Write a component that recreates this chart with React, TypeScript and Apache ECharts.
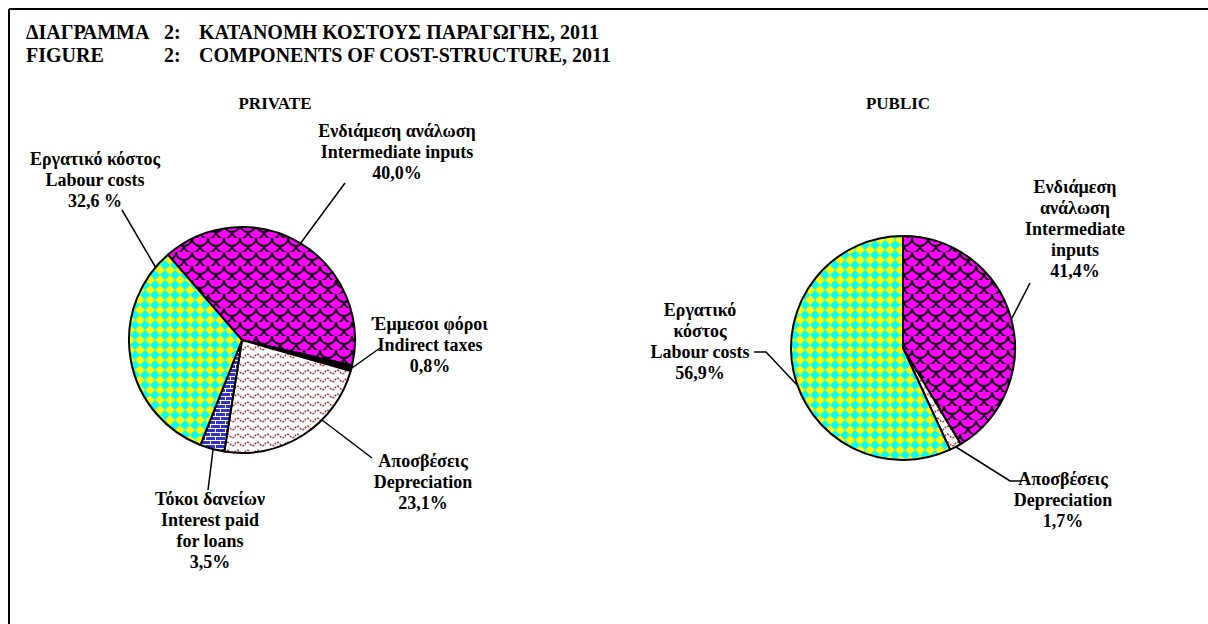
import React, { useEffect, useRef } from "react";
import * as echarts from "echarts";

const privateNames = ["Intermediate inputs", "Indirect taxes", "Depreciation", "Interest paid for loans", "Labour costs"];
const privateValues = [40.0, 0.8, 23.1, 3.5, 32.6];
const privateLabels = [
  "Ενδιάμεση ανάλωση\nIntermediate inputs\n40,0%",
  "Έμμεσοι φόροι\nIndirect taxes\n0,8%",
  "Αποσβέσεις\nDepreciation\n23,1%",
  "Τόκοι δανείων\nInterest paid\nfor loans\n3,5%",
  "Εργατικό κόστος\nLabour costs\n32,6 %",
];
const privatePatterns = ["scales", "solid", "waves", "bricks", "diamonds"];

const publicNames = ["Intermediate inputs", "Depreciation", "Labour costs"];
const publicValues = [41.4, 1.7, 56.9];
const publicLabels = [
  "Ενδιάμεση\nανάλωση\nIntermediate\ninputs\n41,4%",
  "Αποσβέσεις\nDepreciation\n1,7%",
  "Εργατικό\nκόστος\nLabour costs\n56,9%",
];
const publicPatterns = ["scales", "waves", "diamonds"];

// label layout (label centre + leader line)
const privateLabelPos = [
  { x: 397, y: 152, line: [[345, 183], [300, 244]] },
  { x: 430, y: 345, line: [[380, 348], [352, 368]] },
  { x: 423, y: 482, line: [[372, 458], [322, 420]] },
  { x: 210, y: 530, line: [[208, 490], [213, 450]] },
  { x: 95, y: 180, line: [[122, 210], [156, 268]] },
];
const publicLabelPos = [
  { x: 1075, y: 229, line: [[1030, 283], [1011, 320]] },
  { x: 1063, y: 500, line: [[1022, 481], [1010, 481], [956, 447]] },
  { x: 700, y: 341, line: [[754, 352], [766, 352], [798, 386]] },
];

function makePattern(kind: string): any {
  if (kind === "solid") return "#000000";
  const c = document.createElement("canvas");
  const ctx = c.getContext("2d")!;
  if (kind === "diamonds") {
    c.width = 10; c.height = 10;
    ctx.fillStyle = "#FFFF00"; ctx.fillRect(0, 0, 10, 10);
    ctx.fillStyle = "#00FFFF";
    ctx.beginPath(); ctx.moveTo(5, 0); ctx.lineTo(10, 5); ctx.lineTo(5, 10); ctx.lineTo(0, 5); ctx.closePath(); ctx.fill();
  } else if (kind === "scales") {
    c.width = 16; c.height = 14;
    ctx.fillStyle = "#FF00FF"; ctx.fillRect(0, 0, 16, 14);
    ctx.strokeStyle = "#000000"; ctx.lineWidth = 1.9;
    ctx.beginPath(); ctx.arc(8, 0, 8, 0, Math.PI); ctx.stroke();
    ctx.beginPath(); ctx.arc(0, 7, 8, 0, Math.PI); ctx.stroke();
    ctx.beginPath(); ctx.arc(16, 7, 8, 0, Math.PI); ctx.stroke();
    ctx.beginPath(); ctx.arc(8, 14, 8, 0, Math.PI); ctx.stroke();
  } else if (kind === "waves") {
    c.width = 10; c.height = 8;
    ctx.fillStyle = "#FFFFFF"; ctx.fillRect(0, 0, 10, 8);
    ctx.strokeStyle = "#A0403A"; ctx.lineWidth = 1.5;
    ctx.setLineDash([2, 1]);
    ctx.beginPath();
    for (let i = 0; i <= 10; i++) {
      const y = 4 + 1.8 * Math.sin((i / 10) * Math.PI * 2);
      if (i === 0) ctx.moveTo(i, y); else ctx.lineTo(i, y);
    }
    ctx.stroke();
  } else if (kind === "bricks") {
    c.width = 10; c.height = 8;
    ctx.fillStyle = "#3333CC"; ctx.fillRect(0, 0, 10, 8);
    ctx.fillStyle = "#FFFFFF";
    ctx.fillRect(0, 0, 10, 1);
    ctx.fillRect(0, 4, 10, 1);
    ctx.fillRect(0, 0, 1, 4);
    ctx.fillRect(5, 4, 1, 4);
  }
  return { image: c, repeat: "repeat" };
}

const SERIF = "'Liberation Serif', 'Times New Roman', serif";

const labelFont = {
  color: "#000",
  fontFamily: SERIF,
  fontWeight: 700,
  fontSize: 18,
  lineHeight: 21,
  align: "center" as const,
  overflow: "none" as const,
};

export default function App() {
  const ref = useRef<HTMLDivElement>(null);
  useEffect(() => {
    const chart = echarts.init(ref.current!, null, { renderer: "svg" });
    const mkData = (names: string[], values: number[], labels: string[], pats: string[]) =>
      names.map((n, i) => ({
        name: n,
        value: values[i],
        label: { formatter: labels[i] },
        itemStyle: { color: makePattern(pats[i]) },
      }));
    const t = (x: number, y: number, text: string, size: number, align = "left") => ({
      type: "text",
      x,
      y,
      style: { text, font: `bold ${size}px ${SERIF}`, fill: "#000", align, verticalAlign: "middle" },
    });
    chart.setOption({
      animation: false,
      backgroundColor: "#fff",
      graphic: [
        { type: "line", shape: { x1: 9, y1: 9, x2: 1300, y2: 9 }, style: { stroke: "#000", lineWidth: 2 } },
        { type: "line", shape: { x1: 9, y1: 9, x2: 9, y2: 700 }, style: { stroke: "#000", lineWidth: 2 } },
        t(26, 32, "ΔΙΑΓΡΑΜΜΑ", 20),
        t(164, 32, "2:", 20),
        t(199, 32, "ΚΑΤΑΝΟΜΗ ΚΟΣΤΟΥΣ ΠΑΡΑΓΩΓΗΣ, 2011", 20),
        t(26, 55, "FIGURE", 20),
        t(164, 55, "2:", 20),
        t(199, 55, "COMPONENTS OF COST-STRUCTURE, 2011", 20),
        t(275, 103, "PRIVATE", 17, "center"),
        t(898, 103, "PUBLIC", 17, "center"),
      ],
      series: [
        {
          type: "pie",
          center: [242, 340],
          radius: [0, 113],
          startAngle: 131,
          clockwise: true,
          silent: true,
          itemStyle: { borderColor: "#000", borderWidth: 2 },
          label: { show: true, ...labelFont },
          labelLine: { show: true, lineStyle: { color: "#000", width: 1.5 } },
          labelLayout: (p: any) => {
            const pos = privateLabelPos[p.dataIndex];
            return { x: pos.x, y: pos.y, align: "center", verticalAlign: "middle", labelLinePoints: pos.line };
          },
          data: mkData(privateNames, privateValues, privateLabels, privatePatterns),
        },
        {
          type: "pie",
          center: [903, 348],
          radius: [0, 112],
          startAngle: 90,
          clockwise: true,
          silent: true,
          itemStyle: { borderColor: "#000", borderWidth: 2 },
          label: { show: true, ...labelFont },
          labelLine: { show: true, lineStyle: { color: "#000", width: 1.5 } },
          labelLayout: (p: any) => {
            const pos = publicLabelPos[p.dataIndex];
            return { x: pos.x, y: pos.y, align: "center", verticalAlign: "middle", labelLinePoints: pos.line };
          },
          data: mkData(publicNames, publicValues, publicLabels, publicPatterns),
        },
      ],
    });
    return () => chart.dispose();
  }, []);
  return (
    <div
      ref={ref}
      style={{ position: "fixed", left: 0, top: 0, width: 1208, height: 624 }}
    />
  );
}
